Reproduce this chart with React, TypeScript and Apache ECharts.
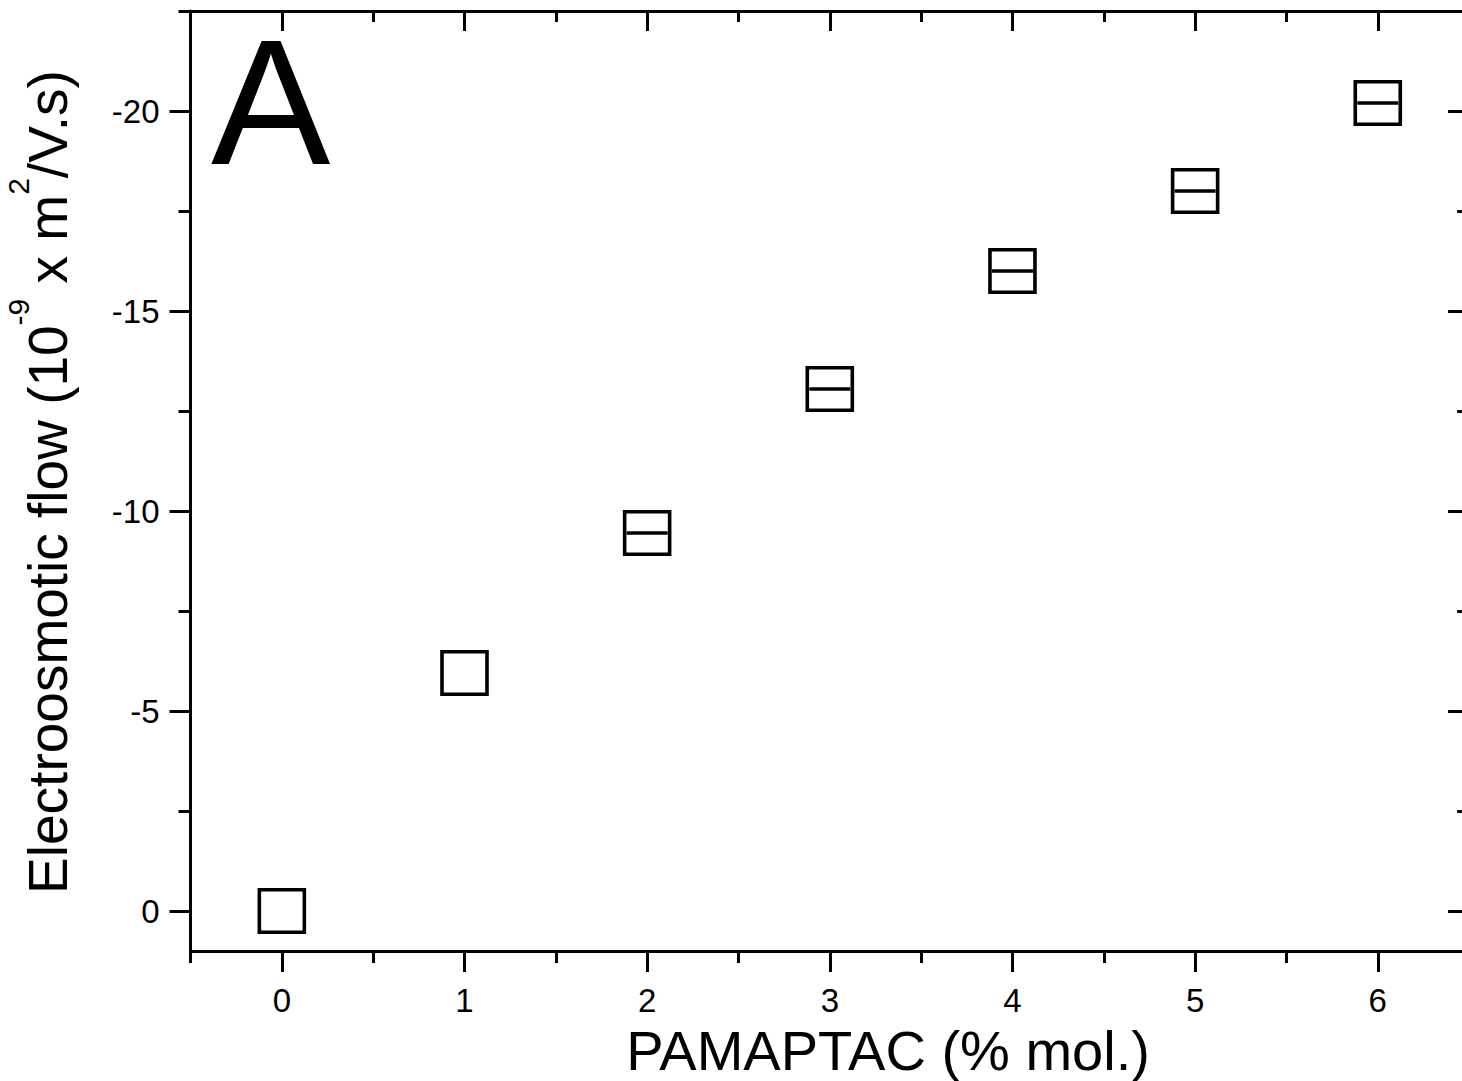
import React, { useEffect, useRef } from "react";
import * as echarts from "echarts";

// ---- data ----
const xValues = [0, 1, 2, 3, 4, 5, 6];
const yValues = [0, -5.95, -9.45, -13.05, -16.0, -18.0, -20.2];
const capShown = [false, false, true, true, true, true, true];

const xMajorTicks = [0, 1, 2, 3, 4, 5, 6];
const xMinorTicks = [-0.5, 0.5, 1.5, 2.5, 3.5, 4.5, 5.5, 6.5];
const yMajorTicks = [0, -5, -10, -15, -20];
const yMinorTicks = [-2.5, -7.5, -12.5, -17.5, -22.5];

const xTitle = "PAMAPTAC (% mol.)";
const yTitleParts = ["Electroosmotic flow (10", "-9", " x m", "2", "/V.s)"];
const panelLabel = "A";

const FONT = "Arial, 'Liberation Sans', sans-serif";

function makeAxis(
  position: string,
  min: number,
  max: number,
  ticks: number[],
  length: number,
  inside: boolean,
  showLine: boolean,
  labels: number[] | null,
  labelSize: number,
  labelMargin: number,
  inverse = false
) {
  return {
    type: "value",
    position,
    min,
    max,
    inverse,
    axisLine: { show: showLine, onZero: false, lineStyle: { color: "#000", width: 3 } },
    axisTick: {
      show: true,
      inside,
      length,
      customValues: ticks,
      lineStyle: { color: "#000", width: 3 },
    },
    axisLabel: labels
      ? {
          show: true,
          customValues: labels,
          fontSize: labelSize,
          fontFamily: FONT,
          color: "#000",
          margin: labelMargin,
        }
      : { show: false },
    splitLine: { show: false },
    minorTick: { show: false },
  };
}

export default function App() {
  const ref = useRef<HTMLDivElement>(null);

  useEffect(() => {
    if (!ref.current) return;
    const chart = echarts.init(ref.current, null, { renderer: "svg" });

    const points = xValues.map((x, i) => [x, yValues[i]]);
    const caps = xValues
      .map((x, i) => (capShown[i] ? [x, yValues[i]] : null))
      .filter((d) => d !== null);

    const option = {
      animation: false,
      backgroundColor: "#fff",
      grid: { left: 190.5, top: 11, width: 1278.6, height: 940 },
      xAxis: [
        makeAxis("bottom", -0.5, 6.5, xMajorTicks, 21, false, true, xMajorTicks, 33, 33),
        makeAxis("bottom", -0.5, 6.5, xMinorTicks, 12, false, false, null, 0, 0),
        makeAxis("top", -0.5, 6.5, xMajorTicks, 20, true, true, null, 0, 0),
        makeAxis("top", -0.5, 6.5, xMinorTicks, 11, true, false, null, 0, 0),
      ],
      yAxis: [
        makeAxis("left", -22.5, 1, yMajorTicks, 21, false, true, yMajorTicks, 33, 31, true),
        makeAxis("left", -22.5, 1, yMinorTicks, 12, false, false, null, 0, 0, true),
        makeAxis("right", -22.5, 1, yMajorTicks, 21, true, true, null, 0, 0, true),
        makeAxis("right", -22.5, 1, yMinorTicks, 12, true, false, null, 0, 0, true),
      ],
      series: [
        {
          type: "scatter",
          xAxisIndex: 0,
          yAxisIndex: 0,
          data: points,
          symbol: "rect",
          symbolSize: [45, 42.5],
          itemStyle: {
            color: "rgba(0,0,0,0)",
            borderColor: "#000",
            borderWidth: 3.5,
            opacity: 1,
          },
          z: 3,
        },
        {
          type: "scatter",
          xAxisIndex: 0,
          yAxisIndex: 0,
          data: caps,
          symbol: "rect",
          symbolSize: [41, 3.5],
          itemStyle: { color: "#000", opacity: 1 },
          z: 4,
        },
      ],
      graphic: [
        {
          type: "text",
          x: 211,
          y: 102,
          style: {
            text: panelLabel,
            fontSize: 179,
            fontFamily: FONT,
            fill: "#000",
            align: "left",
            verticalAlign: "middle",
          },
        },
        {
          type: "text",
          x: 888,
          y: 1050,
          style: {
            text: xTitle,
            fontSize: 56,
            fontFamily: FONT,
            fill: "#000",
            align: "center",
            verticalAlign: "middle",
          },
        },
        {
          type: "text",
          x: 48,
          y: 482,
          rotation: Math.PI / 2,
          style: {
            text:
              "{m|" + yTitleParts[0] + "}{s|" + yTitleParts[1] + "}{m|" + yTitleParts[2] +
              "}{s|" + yTitleParts[3] + "}{m|" + yTitleParts[4] + "}",
            align: "center",
            verticalAlign: "middle",
            fill: "#000",
            rich: {
              m: { fontSize: 55, fontFamily: FONT, lineHeight: 90, fill: "#000" },
              s: { fontSize: 30, fontFamily: FONT, lineHeight: 32, verticalAlign: "top", fill: "#000" },
            },
          },
        },
      ],
    };

    chart.setOption(option as any);
    return () => chart.dispose();
  }, []);

  return (
    <div
      style={{ position: "absolute", left: 0, top: 0, width: 1462, height: 1081, overflow: "hidden" }}
    >
      <div ref={ref} style={{ width: 1480, height: 1081 }} />
    </div>
  );
}
